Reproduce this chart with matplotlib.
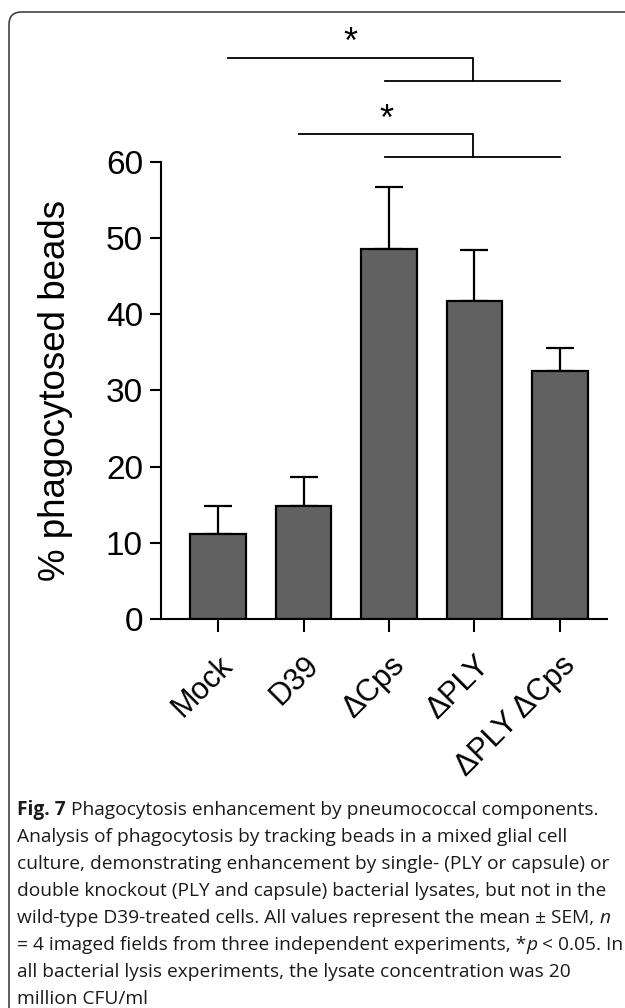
"""Bar chart of phagocytosed beads per lysate with significance brackets and caption."""

import matplotlib

matplotlib.use("Agg")
import matplotlib.pyplot as plt
import matplotlib.transforms as mtransforms
from matplotlib.patches import FancyBboxPatch

# Data
CATEGORIES = ["Mock", "D39", "ΔCps", "ΔPLY", "ΔPLY ΔCps"]
MEANS = [11.2, 14.8, 48.6, 41.7, 32.5]
SEM = [3.6, 3.8, 8.1, 6.7, 3.1]

# Significance brackets: (upper line x0, x1, y), (lower line x0, x1, y)
BRACKETS = [
    ((0.12, 2.98, 73.6), (1.95, 4.0, 70.6)),
    ((0.95, 2.98, 63.6), (1.95, 4.0, 60.6)),
]

CAPTION = [
    [("Fig. 7", "bold"), (" Phagocytosis enhancement by pneumococcal components.", "normal")],
    [("Analysis of phagocytosis by tracking beads in a mixed glial cell", "normal")],
    [("culture, demonstrating enhancement by single- (PLY or capsule) or", "normal")],
    [("double knockout (PLY and capsule) bacterial lysates, but not in the", "normal")],
    [("wild-type D39-treated cells. All values represent the mean ± SEM, ", "normal"), ("n", "italic")],
    [("= 4 imaged fields from three independent experiments, *", "normal"), ("p", "italic"),
     (" < 0.05. In", "normal")],
    [("all bacterial lysis experiments, the lysate concentration was 20", "normal")],
    [("million CFU/ml", "normal")],
]

W, H = 625, 1008
BAR_COLOR = "#616161"
AX_FONT = "Liberation Sans"
CAP_FONT = "Open Sans"


def main() -> None:
    fig = plt.figure(figsize=(W / 100, H / 100), dpi=100)

    # frame around the whole panel
    frame = FancyBboxPatch(
        (9 / W, -0.02), 1.2, 1.0 - 12 / H + 0.02,
        boxstyle="round,pad=0,rounding_size=0.02",
        transform=fig.transFigure, fill=False, edgecolor="#444444",
        linewidth=1.2, mutation_aspect=W / H,
    )
    fig.patches.append(frame)

    ax = fig.add_axes([161 / W, 1 - 619.3 / H, (607 - 161) / W, (619.3 - 161.6) / H])
    x = list(range(len(CATEGORIES)))
    ax.bar(x, MEANS, width=0.65, color=BAR_COLOR, edgecolor="black", linewidth=1.6, zorder=2)
    ax.errorbar(x, MEANS, yerr=[[0] * len(SEM), SEM], fmt="none", ecolor="black",
                elinewidth=1.6, capsize=10, capthick=1.6, zorder=1)

    ax.set_xlim(-0.667, 4.55)
    ax.set_ylim(0, 60)
    ax.set_yticks([0, 10, 20, 30, 40, 50, 60])
    ax.set_xticks(x)
    ax.set_xticklabels(CATEGORIES, rotation=45, ha="right", rotation_mode="anchor",
                       fontsize=22, family=AX_FONT)
    # nudge rotated labels a little left, as in the original
    shift = mtransforms.ScaledTranslation(-5 / 72, 0, fig.dpi_scale_trans)
    for lbl in ax.get_xticklabels():
        lbl.set_transform(lbl.get_transform() + shift)
    for lbl in ax.get_yticklabels():
        lbl.set_fontsize(24)
        lbl.set_family(AX_FONT)
    ax.tick_params(axis="y", direction="out", length=8, width=1.5, pad=5)
    ax.tick_params(axis="x", direction="out", length=9.5, width=1.5, pad=13)

    for side in ("top", "right"):
        ax.spines[side].set_visible(False)
    ax.spines["left"].set_linewidth(1.5)
    ax.spines["bottom"].set_linewidth(1.5)
    ax.spines["left"].set_bounds(0, 60)

    ax.set_ylabel("% phagocytosed beads", fontsize=26.5, family=AX_FONT)
    ax.yaxis.set_label_coords((73 - 161) / 446, 0.5)

    for upper, lower in BRACKETS:
        ux0, ux1, uy = upper
        lx0, lx1, ly = lower
        ax.plot([ux0, ux1, ux1], [uy, uy, ly], color="black", linewidth=1.3, clip_on=False)
        ax.plot([lx0, lx1], [ly, ly], color="black", linewidth=1.3, clip_on=False)
        ax.text((ux0 + ux1) / 2, uy + 0.6, "*", fontsize=26, family=AX_FONT,
                ha="center", va="baseline", clip_on=False)

    # caption, drawn segment by segment to mix bold/italic
    fig.canvas.draw()
    renderer = fig.canvas.get_renderer()
    y0 = 810
    for i, line in enumerate(CAPTION):
        xpos = 17 / W
        ypos = 1 - (y0 + i * 27) / H
        for text, style in line:
            t = fig.text(
                xpos, ypos, text, fontsize=13.8, family=CAP_FONT, color="#1a1a1a",
                fontweight="bold" if style == "bold" else "normal",
                fontstyle="italic" if style == "italic" else "normal",
                va="center", ha="left",
            )
            bb = t.get_window_extent(renderer=renderer)
            xpos += bb.width / W

    fig.savefig("out.png", dpi=100)
    plt.close(fig)


if __name__ == "__main__":
    main()
